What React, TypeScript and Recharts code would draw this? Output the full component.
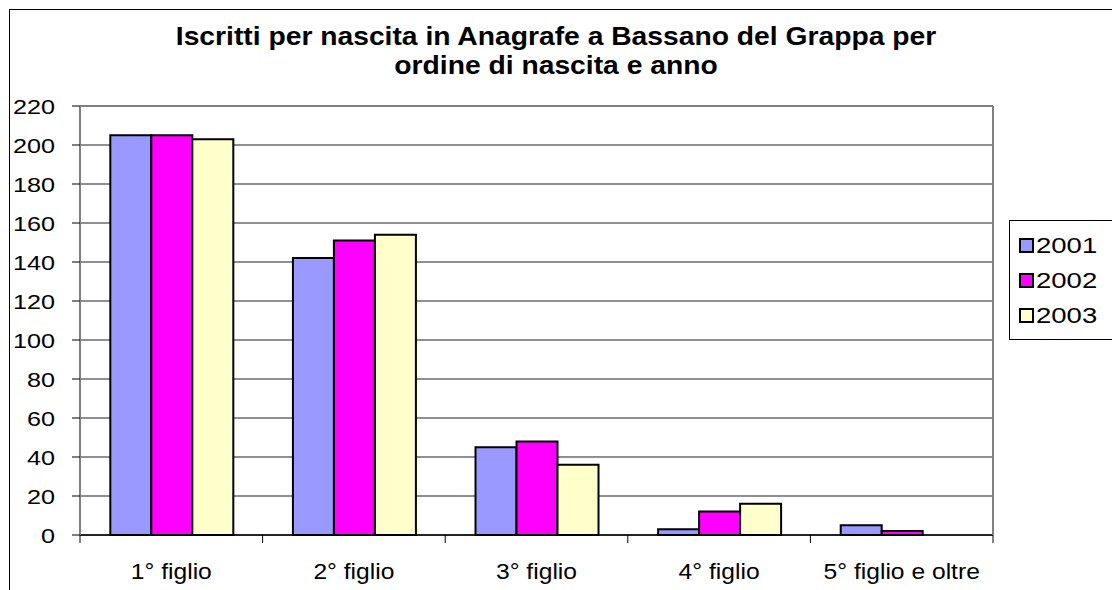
import React from 'react';
import { BarChart, Bar, XAxis, YAxis, CartesianGrid, ReferenceLine, Legend } from 'recharts';

const categories = ['1° figlio', '2° figlio', '3° figlio', '4° figlio', '5° figlio e oltre'];
const years = ['2001', '2002', '2003'];
const values2001 = [205, 142, 45, 3, 5];
const values2002 = [205, 151, 48, 12, 2];
const values2003 = [203, 154, 36, 16, 0];
const yTicks = [0, 20, 40, 60, 80, 100, 120, 140, 160, 180, 200, 220];
const colors = ['#9999FF', '#FF00FF', '#FFFFCC'];
const titleLines = ['Iscritti per nascita in Anagrafe a Bassano del Grappa per', 'ordine di nascita e anno'];

const data = categories.map((name, i) => ({
  name,
  y2001: values2001[i],
  y2002: values2002[i],
  y2003: values2003[i],
}));

const FONT = '"Liberation Sans", Arial, sans-serif';

const YTick = (props: any) => {
  const { x, y, payload } = props;
  return (
    <g transform={`translate(${x},${y}) scale(1.2,1)`}>
      <text x={0} y={0} dy="0.36em" textAnchor="end" fontSize={21} fontFamily={FONT} fill="#000">
        {payload.value}
      </text>
    </g>
  );
};

const XTick = (props: any) => {
  const { x, y, payload, width, visibleTicksCount, index } = props;
  const half = width && visibleTicksCount ? width / visibleTicksCount / 2 : payload.offset || 0;
  return (
    <g>
      <line x1={x - half} x2={x - half} y1={y} y2={y + 8} stroke="#000" strokeWidth={1} />
      {index === visibleTicksCount - 1 && (
        <line x1={x + half} x2={x + half} y1={y} y2={y + 8} stroke="#000" strokeWidth={1} />
      )}
      <g transform={`translate(${x},${y + 44}) scale(1.12,1)`}>
        <text x={0} y={0} textAnchor="middle" fontSize={22} fontFamily={FONT} fill="#000">
          {payload.value}
        </text>
      </g>
    </g>
  );
};

const LegendBox = () => (
  <div
    style={{
      border: '1px solid #000',
      background: '#fff',
      width: 140,
      height: 120,
      boxSizing: 'border-box',
      paddingTop: 7,
      paddingLeft: 9,
    }}
  >
    {years.map((yr, i) => (
      <div key={yr} style={{ display: 'flex', alignItems: 'center', height: 35 }}>
        <div
          style={{
            width: 15,
            height: 15,
            boxSizing: 'border-box',
            border: '2px solid #000',
            background: colors[i],
            marginRight: 2,
          }}
        />
        <span
          style={{
            fontFamily: FONT,
            fontSize: 22,
            display: 'inline-block',
            transform: 'scaleX(1.25)',
            transformOrigin: 'left center',
            lineHeight: '22px',
          }}
        >
          {yr}
        </span>
      </div>
    ))}
  </div>
);

export default function App() {
  return (
    <div style={{ position: 'absolute', left: 0, top: 0, width: 1112, height: 590, overflow: 'hidden', background: '#fff' }}>
      <div
        style={{
          position: 'absolute',
          left: 9,
          top: 9,
          width: 1200,
          height: 700,
          border: '1px solid #000',
          boxSizing: 'border-box',
        }}
      >
        <div
          style={{
            position: 'absolute',
            left: 0,
            top: 12,
            width: 1092,
            textAlign: 'center',
            fontFamily: FONT,
            fontWeight: 'bold',
            fontSize: 25,
            lineHeight: '29px',
            transform: 'scaleX(1.13)',
            transformOrigin: '546px 0',
            zIndex: 2,
          }}
        >
          {titleLines.map((l) => (
            <div key={l}>{l}</div>
          ))}
        </div>
        <BarChart
          width={1120}
          height={600}
          data={data}
          margin={{ top: 96, right: 136, bottom: 45, left: 10 }}
          barCategoryGap="16.6%"
          barGap={0}
        >
          <CartesianGrid yAxisId="l" xAxisId="c" vertical={false} stroke="#202020" strokeWidth={1} />
          <XAxis
            xAxisId="c"
            dataKey="name"
            height={30}
            interval={0}
            axisLine={{ stroke: '#000', strokeWidth: 1.5 }}
            tickLine={false}
            tickSize={0}
            tickMargin={0}
            tick={<XTick />}
          />
          <YAxis
            yAxisId="l"
            width={60}
            domain={[0, 220]}
            ticks={yTicks}
            interval={0}
            tickSize={8}
            tickMargin={17}
            axisLine={{ stroke: '#808080', strokeWidth: 2 }}
            tickLine={{ stroke: '#000' }}
            tick={<YTick />}
          />
          <YAxis
            yAxisId="r"
            orientation="right"
            width={1}
            domain={[0, 220]}
            tick={false}
            tickLine={false}
            axisLine={{ stroke: '#808080', strokeWidth: 2 }}
          />
          <ReferenceLine yAxisId="l" xAxisId="c" y={220} stroke="#808080" strokeWidth={2} />
          <Bar xAxisId="c" yAxisId="l" dataKey="y2001" name="2001" fill={colors[0]} stroke="#000" strokeWidth={2} isAnimationActive={false} />
          <Bar xAxisId="c" yAxisId="l" dataKey="y2002" name="2002" fill={colors[1]} stroke="#000" strokeWidth={2} isAnimationActive={false} />
          <Bar xAxisId="c" yAxisId="l" dataKey="y2003" name="2003" fill={colors[2]} stroke="#000" strokeWidth={2} isAnimationActive={false} />
          <Legend
            layout="horizontal"
            verticalAlign="middle"
            align="center"
            content={<LegendBox />}
            wrapperStyle={{ left: 999, top: 210, width: 140, height: 120 }}
          />
        </BarChart>
      </div>
    </div>
  );
}
